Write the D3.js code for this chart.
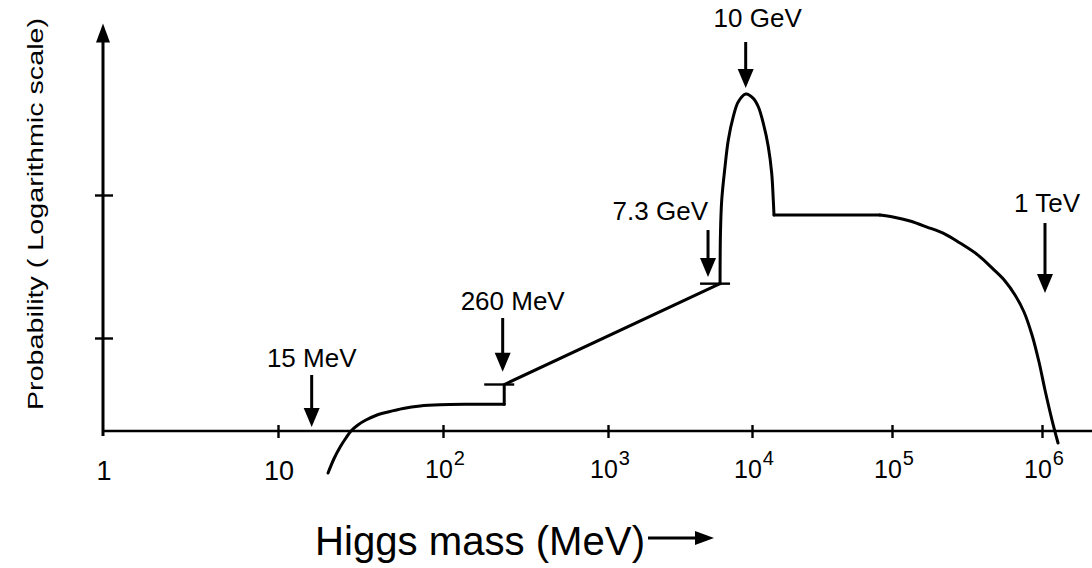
<!DOCTYPE html>
<html><head><meta charset="utf-8">
<script src="https://cdn.jsdelivr.net/npm/d3@7"></script>
<style>html,body{margin:0;padding:0;background:#fff;} svg{display:block}</style>
</head><body><svg id="chart" width="1092" height="568"></svg>
<script>
// ---------- data ----------
const massTicks = [1, 10, 100, 1000, 10000, 100000, 1000000];      // MeV
const tickBase  = ["1", "10", "10", "10", "10", "10", "10"];
const tickExp   = ["", "", "2", "3", "4", "5", "6"];
const probTicks = [1, 2];                                           // log-probability (arbitrary decades)
const probTop   = 3.2;

// low-mass rise (smooth)
const lowMass = [20.1, 21.8, 23.8, 25.8, 27.7, 30.5, 34.1, 39.2, 46.4, 57.3, 72.6, 95.9, 145.8, 235];
const lowProb = [-0.452, -0.301, -0.172, -0.075, 0, 0.065, 0.118, 0.167, 0.204, 0.242, 0.269, 0.282, 0.287, 0.288];
// step at 260 MeV and straight rise to 7.3 GeV
const stepMass = [235, 235, 6000];
const stepProb = [0.288, 0.50, 1.38];
// peak around 10 GeV (smooth)
const peakMass = [6000, 6040, 6163, 6493, 6846, 7413, 8035, 9043, 10216, 11092, 12043, 13074, 13827, 14193, 14357];
const peakProb = [1.38, 1.734, 1.965, 2.196, 2.385, 2.548, 2.652, 2.706, 2.676, 2.617, 2.501, 2.338, 2.152, 1.965, 1.86];
// plateau
const flatMass = [14357, 82050];
const flatProb = [1.86, 1.86];
// high-mass fall-off (smooth)
const tailMass = [82050, 101550, 131800, 171100, 225600, 284000, 374400, 471300, 566600, 660700, 758600, 857800, 955000, 1047000, 1166000, 1279000];
const tailProb = [1.86, 1.846, 1.818, 1.776, 1.727, 1.664, 1.580, 1.483, 1.399, 1.301, 1.182, 1.021, 0.742, 0.441, 0.118, -0.129];

// step markers
const markMass = [235, 6000];
const markProb = [0.50, 1.38];

// annotations
const annLabel = ["15 MeV", "260 MeV", "7.3 GeV", "10 GeV", "1 TeV"];
const annMass  = [16, 230, 4950, 9040, 1047000];
const annTip   = [0.043, 0.638, 1.427, 2.748, 1.315];
const annTail  = [0.602, 1.140, 1.755, 3.070, 1.804];

// ---------- layout / style ----------
const W = 1092, H = 568;
const FONT = "'Liberation Sans', Arial, sans-serif";
const annDx     = [0, 10, 0, 12, 2];
const annAnchor = ["middle", "middle", "end", "middle", "middle"];
const annGap    = [8, 8, 10, 15, 11];

const svg = d3.select("#chart");

const x = d3.scaleLog().domain(massTicks).range([103, 278, 443, 608, 752, 892, 1042]);
const y = d3.scaleLinear().domain([0, 1, 2]).range([431, 338, 195]);

const ink = "#000";

// axes lines
svg.append("line")
  .attr("x1", x(1) - 1).attr("x2", W).attr("y1", y(0)).attr("y2", y(0))
  .attr("stroke", ink).attr("stroke-width", 2.6);
svg.append("line")
  .attr("x1", x(1)).attr("x2", x(1)).attr("y1", y(0) + 5).attr("y2", y(probTop) + 16)
  .attr("stroke", ink).attr("stroke-width", 3);
svg.append("path")
  .attr("d", `M${x(1)},${y(probTop)} L${x(1) - 7},${y(probTop) + 19} L${x(1) + 7},${y(probTop) + 19} Z`)
  .attr("fill", ink);

// x ticks via d3 axis
const gx = svg.append("g").attr("transform", `translate(0,${y(0)})`)
  .call(d3.axisBottom(x).tickValues(massTicks.slice(1)).tickFormat("").tickSizeOuter(0));
gx.select(".domain").remove();
gx.selectAll(".tick line").attr("y1", -6).attr("y2", 7).attr("stroke", ink).attr("stroke-width", 2.4);

// y ticks via d3 axis
const gy = svg.append("g").attr("transform", `translate(${x(1)},0)`)
  .call(d3.axisLeft(y).tickValues(probTicks).tickFormat("").tickSizeOuter(0));
gy.select(".domain").remove();
gy.selectAll(".tick line").attr("x1", -8).attr("x2", 10).attr("stroke", ink).attr("stroke-width", 2.4);

// x tick labels
const tl = svg.append("g").attr("font-family", FONT).attr("fill", ink);
massTicks.forEach((m, i) => {
  const px = x(m);
  if (tickExp[i] === "") {
    tl.append("text").attr("x", px + 1).attr("y", 480)
      .attr("text-anchor", "middle").attr("font-size", 27).text(tickBase[i]);
  } else {
    const t = tl.append("text").attr("x", px - 18).attr("y", 478)
      .attr("text-anchor", "start").attr("font-size", 25);
    t.append("tspan").text(tickBase[i]);
    t.append("tspan").attr("dx", 1).attr("dy", -13).attr("font-size", 20).text(tickExp[i]);
  }
});

// curve
const smooth = d3.line().x(d => x(d[0])).y(d => y(d[1])).curve(d3.curveCatmullRom.alpha(0.5));
const straight = d3.line().x(d => x(d[0])).y(d => y(d[1]));
const zip = (a, b) => a.map((v, i) => [v, b[i]]);
const curveStyle = p => p.attr("fill", "none").attr("stroke", ink).attr("stroke-width", 3)
  .attr("stroke-linejoin", "round").attr("stroke-linecap", "round");

svg.append("path").attr("d", smooth(zip(lowMass, lowProb))).call(curveStyle);
svg.append("path").attr("d", straight(zip(stepMass, stepProb))).call(curveStyle);
svg.append("path").attr("d", smooth(zip(peakMass, peakProb))).call(curveStyle);
svg.append("path").attr("d", straight(zip(flatMass, flatProb))).call(curveStyle);
svg.append("path").attr("d", smooth(zip(tailMass, tailProb))).call(curveStyle);

// step markers
markMass.forEach((m, i) => {
  svg.append("line")
    .attr("x1", x(m) - 20).attr("x2", x(m) + 10)
    .attr("y1", y(markProb[i])).attr("y2", y(markProb[i]))
    .attr("stroke", ink).attr("stroke-width", 2.4);
});

// annotation arrows
const ann = svg.append("g");
annMass.forEach((m, i) => {
  const px = x(m), yt = y(annTip[i]), y0 = y(annTail[i]);
  const head = 19, hw = 8;
  ann.append("line").attr("x1", px).attr("x2", px).attr("y1", y0).attr("y2", yt - head + 2)
    .attr("stroke", ink).attr("stroke-width", 3);
  ann.append("path").attr("d", `M${px},${yt} L${px - hw},${yt - head} L${px + hw},${yt - head} Z`)
    .attr("fill", ink);
  ann.append("text").attr("x", px + annDx[i]).attr("y", y0 - annGap[i])
    .attr("text-anchor", annAnchor[i]).attr("font-family", FONT).attr("font-size", 26)
    .attr("fill", ink).text(annLabel[i]);
});

// axis titles
svg.append("text").attr("x", 315).attr("y", 555)
  .attr("font-family", FONT).attr("font-size", 40).attr("fill", ink)
  .attr("textLength", 330).attr("lengthAdjust", "spacingAndGlyphs")
  .text("Higgs mass (MeV)");
svg.append("line").attr("x1", 648).attr("x2", 700).attr("y1", 538).attr("y2", 538)
  .attr("stroke", ink).attr("stroke-width", 3);
svg.append("path").attr("d", "M714,538 L695,531 L695,545 Z").attr("fill", ink);

svg.append("text").attr("transform", "translate(43,214) rotate(-90)")
  .attr("text-anchor", "middle").attr("font-family", FONT).attr("font-size", 22).attr("fill", ink)
  .attr("textLength", 392).attr("lengthAdjust", "spacingAndGlyphs")
  .text("Probability ( Logarithmic scale)");
</script>
</body></html>
